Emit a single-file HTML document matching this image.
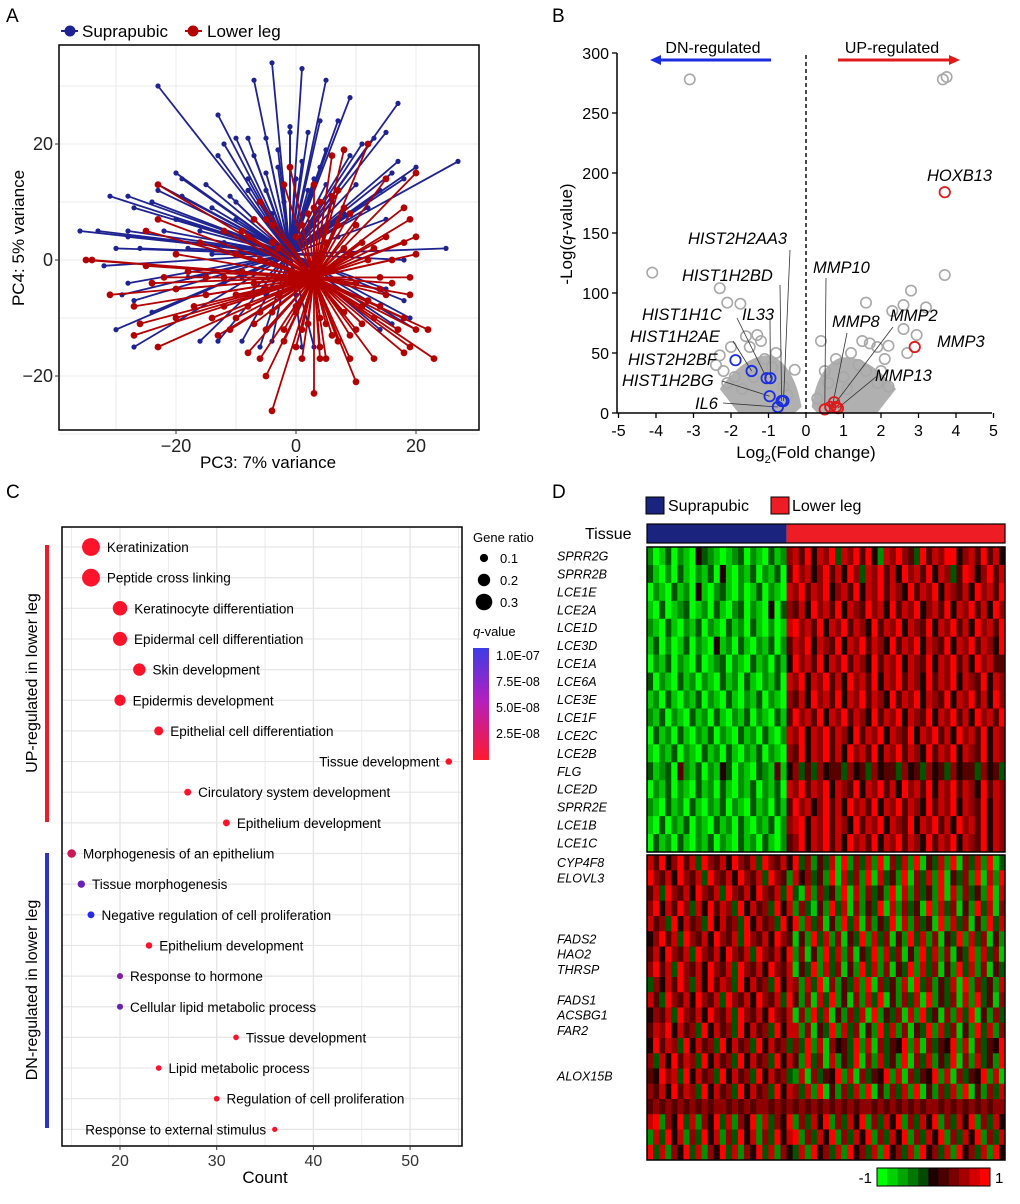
<!DOCTYPE html>
<html><head><meta charset="utf-8"><style>
html,body{margin:0;padding:0;background:#fff}
svg{display:block;font-family:"Liberation Sans",Arial,sans-serif}
</style></head><body>
<svg id="fig" width="1020" height="1204" viewBox="0 0 1020 1204" xmlns="http://www.w3.org/2000/svg"></svg>
<script>
// ===== Panel A data (PC3, PC4 endpoints) =====
const pcaBlueCenter=[-1,1];
const pcaRedCenter=[3,-3];
const pcaBlue=[[-23,30],[-4,34],[1,33],[-7,31],[5,31],[9,28],[17,27],[-13,25],[-1,22],[2,22],[-10,21],[-8,21],[-5,21],[13,21],[15,22],[7,24],[4,24],[-1,23],[-12,20],[-13,18],[-3,19],[5,19],[11,20],[9,18],[17,17],[20,16],[27,17],[16,15],[18,14],[-20,15],[-19,14],[-23,13],[-23,12],[-15,13],[-19,11],[-31,11],[-28,11],[-24,10],[-27,9],[-10,10],[-36,5],[-33,5],[-28,5],[-28,4],[-22,5],[-30,2],[-26,2],[-32,-1],[-28,-4],[-29,-6],[-27,-7],[-30,-12],[-27,-15],[-16,-14],[-13,-14],[-9,-14],[-6,-15],[1,-15],[3,-15],[25,2],[18,0],[19,-10],[18,-7],[15,-5],[16,-11],[20,-12],[14,-12],[-4,-14],[8,8],[12,9],[14,12],[-5,12],[0,14],[3,14],[-8,14],[-14,9],[15,7],[-20,7],[-18,-3],[-24,-9],[-12,-4],
[-8,12],[-5,15],[-2,10],[2,12],[6,10],[-10,7],[-12,3],[-6,4],[3,6],[7,4],[-9,-3],[-5,-6],[0,-6],[-14,1],[-3,16],[4,16],[-7,18],[1,17],[10,13],[-11,11],[-16,5],[-18,2],[-4,8],[5,13]];
const pcaRed=[[-35,0],[-34,0],[-23,13],[-23,7],[-25,5],[-25,-1],[-31,-6],[-27,-8],[-26,-11],[-27,-13],[-23,-15],[-20,-5],[-18,-2],[-20,-10],[-13,-13],[-10,-10],[-8,-16],[-6,-17],[-5,-20],[-4,-26],[-2,-12],[0,-15],[1,-17],[3,-23],[4,-17],[5,-17],[9,-17],[10,-21],[13,-17],[18,-16],[19,-15],[22,-12],[23,-17],[20,-12],[18,-10],[19,-6],[19,-3],[20,1],[18,3],[20,4],[19,7],[18,9],[15,14],[20,15],[12,20],[8,19],[6,18],[-1,16],[3,13],[-2,13],[7,12],[8,9],[9,8],[4,10],[-5,7],[-7,7],[-12,5],[-16,3],[-20,1],[-15,-3],[-10,-6],[-12,-8],[-7,-4],[-3,-6],[0,-9],[5,-11],[11,-8],[14,-3],[15,-6],[13,-10],[10,-12],[-5,-12],[14,-5],[12,0],[16,0],[-8,4],[-4,6],[2,8],[5,5],[-9,-2],[-24,-4],[-17,-8],[-22,-3],[6,-5],[17,-12],[-14,-10],[-6,-9],[7,-14],
[-6,0],[-4,3],[0,4],[5,3],[9,1],[10,-4],[8,-9],[4,-10],[0,-8],[-5,-5],[-8,-8],[-3,2],[7,6],[11,3],[12,-7],[6,-13],[-2,-14],[-10,1],[-12,-3],[1,6],[4,-15],[9,-13],[-7,-11],[13,2],[-1,-2],[8,2],[2,-11],[-4,-9],[11,-11],[-9,5],[6,11],[-6,10],[3,9],[14,-8],[16,-4],[15,4],[-11,-12],[-15,-6],[10,6],[1,-12]];
const pcaXTicks=[-20,0,20];
const pcaYTicks=[-20,0,20];

// ===== Panel B data (log2FC, -log q) =====
const volGrey=[[-3.1,278],[3.65,278],[3.75,280],[-4.1,117],[3.7,115],[-2.3,104],[2.8,102],[-2.1,92],[-1.75,91],[1.6,92],[2.6,90],[3.2,88],[2.3,85],[-1.3,65],[-1.2,60],[-2.0,55],[-1.5,55],[2.6,70],[2.95,65],[0.4,60],[1.5,60],[1.7,58],[1.9,55],[2.2,56],[2.7,50],[2.1,45],[-2.3,48],[-2.4,40],[-1.9,30],[-2.1,25],[1.9,25],[2.2,22],[-0.3,36],[-1.6,64],[-0.6,22],[0.8,45],[1.2,50],[1.0,30],[1.4,40],[0.5,35],[-1.1,45],[-0.9,38],[-1.4,30],[-0.5,15],[0.3,12],[1.1,20],[1.6,35],[-1.7,20],[2.0,35],[-2.2,35],[0.6,25],[-0.8,50]];
const volDn=[[-1.88,44],[-1.45,35],[-1.05,29],[-0.95,29],[-0.97,14],[-0.65,10],[-0.6,10],[-0.75,5]];
const volUp=[[3.7,184],[2.9,55],[0.5,3],[0.65,5],[0.75,9],[0.8,5],[0.85,4]];
const volXTicks=[-5,-4,-3,-2,-1,0,1,2,3,4,5];
const volYTicks=[0,50,100,150,200,250,300];

// ===== Panel C data =====
const goTerms=["Keratinization","Peptide cross linking","Keratinocyte differentiation","Epidermal cell differentiation","Skin development","Epidermis development","Epithelial cell differentiation","Tissue development","Circulatory system development","Epithelium development","Morphogenesis of an epithelium","Tissue morphogenesis","Negative regulation of cell proliferation","Epithelium development","Response to hormone","Cellular lipid metabolic process","Tissue development","Lipid metabolic process","Regulation of cell proliferation","Response to external stimulus"];
const goCounts=[17,17,20,20,22,20,24,54,27,31,15,16,17,23,20,20,32,24,30,36];
const goRatios=[0.33,0.33,0.25,0.24,0.2,0.17,0.12,0.06,0.07,0.07,0.11,0.08,0.07,0.06,0.05,0.05,0.04,0.04,0.04,0.03];
const goQ=[1e-9,1e-9,1e-9,1e-9,1e-9,1e-9,1e-9,1e-9,1e-9,1e-9,2.5e-8,7e-8,1e-7,1e-9,6e-8,7e-8,1e-9,1e-9,1e-9,1e-9];
const goXTicks=[20,30,40,50];

// ===== Panel D data =====
const hmGenesTop=["SPRR2G","SPRR2B","LCE1E","LCE2A","LCE1D","LCE3D","LCE1A","LCE6A","LCE3E","LCE1F","LCE2C","LCE2B","FLG","LCE2D","SPRR2E","LCE1B","LCE1C"];
const hmTop=[
"20130210432101230210312675847683768584276865385768846758574",
"31020310213041021302130586746857486376857486758476358746857",
"02103120410231020130210768576846758476857648576847657486758",
"10301230120310230210403657486758476586748576846758476857486",
"21031021302103120310201786758476857648576847658476857486758",
"13020130210412031021302576847658476857648576847658476857648",
"02130210301230210312031486758476857648576847658476857486755",
"30210312021031203102130768476857486758476857648576847658476",
"12031021302103102130210657486758476857648576847658476857486",
"21302103120310213021031586758476857648576847658476857486758",
"03120310213021031203102768476857648576847658476857486758476",
"10213021031203102130210658476857486758476857648576847658476",
"31230521302143021032151463536455364536455364536453645536453",
"02130210312031021302130768576847658476857486758476857648576",
"21031203102130210312031586746857486758476857648576847658476",
"10302130210312031021302678476857648576847658476857486758476",
"03120310213021031203102568476857486758476857648576847658476"];
const hmGenesBottom=["CYP4F8","ELOVL3","","","","FADS2","HAO2","THRSP","","FADS1","ACSBG1","FAR2","","","ALOX15B","","","","",""];
const hmBottom=[
"75846857386574865738657483625371826372816372815372816372813",
"86574865738657486573865274635281736281735281637281536281728",
"57386574865738657486573831726352817263528172635281726352817",
"68475863748576384756384726315283716253817263518273615283716",
"75638475638475638475638482736152837162538172635182736152837",
"46857386574865738657486515283726153827361528372615382736152",
"57486573865748657386574826152837261538273615283726153827361",
"68573865748657386574865715382736152837261538273615283726153",
"36475863748576384756384762738162537281635271836253718263527",
"75386574865738657486573852617382516273815263718253617283516",
"46573865748657386574865716283715263718253617283516273815263",
"57684756384756384756384772615382736152837261538273615283726",
"48576384756384756384756363827164538271635482716354827163548",
"63748576384756384756384752836172538162735281637253816273528",
"54867384756384756384756327163548271635482716354827163548271",
"65748576384756384756384763728152637281526372815263728152637",
"56565656565665656566565656565656565665656565656656565656566",
"78264837264837264827364826374826374826374826374826374826374",
"27384726384726384726384782637482637482637482637482637482637",
"83726483726483726483726437284637284637284637284637284637284"];
const hmSupraFrac=0.39;
const colorbarSteps=[-1,-0.8,-0.6,-0.4,-0.2,0,0.2,0.4,0.6,0.8,1];

const NS="http://www.w3.org/2000/svg";
const svg=document.getElementById('fig');
function mk(tag,attrs,parent,txt){const e=document.createElementNS(NS,tag);for(const k in attrs)e.setAttribute(k,attrs[k]);if(txt!==undefined)e.textContent=txt;(parent||svg).appendChild(e);return e;}
function grp(name){const g=mk('g',{});return g;}

[["A",6,22],["B",552,22],["C",6,498],["D",552,498]].forEach(p=>{
  const t=mk('text',{x:p[1],y:p[2],'font-size':19},svg,p[0]);
  
  
});

// ===== Panel A =====
(function(){
  const g=grp('pca-panel');
  const L=59,R=479,T=45,B=430;
  const xs=v=>296+v*6, ys=v=>260-v*5.8;
  mk('rect',{x:L,y:T,width:R-L,height:B-T,fill:'#fff'},g);
  const grid=grp('pca-grid');g.appendChild(grid);
  [-30,-20,-10,0,10,20].forEach(v=>mk('line',{x1:xs(v),x2:xs(v),y1:T,y2:B,stroke:'#ebebeb','stroke-width':1},grid));
  [-30,-20,-10,0,10,20,30].forEach(v=>mk('line',{x1:L,x2:R,y1:ys(v),y2:ys(v),stroke:'#ebebeb','stroke-width':1},grid));
  function series(pts,c,col,r,name){
    const sg=grp(name);g.appendChild(sg);
    pts.forEach(p=>{
      mk('line',{x1:xs(c[0]),y1:ys(c[1]),x2:xs(p[0]),y2:ys(p[1]),stroke:col,'stroke-width':1.8},sg);
    });
    pts.forEach(p=>{
      const d=mk('circle',{cx:xs(p[0]),cy:ys(p[1]),r:r,fill:col},sg);
      
      
    });
  }
  series(pcaBlue,pcaBlueCenter,'#1f2391',2.6,'suprapubic-series');
  series(pcaRed,pcaRedCenter,'#b30000',3.4,'lower-leg-series');
  mk('rect',{x:L,y:T,width:R-L,height:B-T,fill:'none',stroke:'#000','stroke-width':1.5},g);
  pcaXTicks.forEach(v=>{mk('line',{x1:xs(v),x2:xs(v),y1:B,y2:B+4,stroke:'#333'},g);
    const t=mk('text',{x:xs(v),y:B+22,'font-size':18,'text-anchor':'middle',fill:'#222'},g,v<0?'\u2212'+(-v):v);
    });
  pcaYTicks.forEach(v=>{mk('line',{x1:L-4,x2:L,y1:ys(v),y2:ys(v),stroke:'#333'},g);
    const t=mk('text',{x:L-6,y:ys(v)+6,'font-size':18,'text-anchor':'end',fill:'#222'},g,v<0?'\u2212'+(-v):v);
    });
  const xt=mk('text',{x:268,y:468,'font-size':17,'text-anchor':'middle'},g,'PC3: 7% variance');
  
  const yt=mk('text',{x:0,y:0,'font-size':17,'text-anchor':'middle',transform:'translate(24,238) rotate(-90)'},g,'PC4: 5% variance');
  
  const lg=grp('pca-legend');g.appendChild(lg);
  mk('line',{x1:61,x2:78,y1:31,y2:31,stroke:'#1f2391','stroke-width':2},lg);
  mk('circle',{cx:70,cy:31,r:5.5,fill:'#1f2391'},lg);
  const l1=mk('text',{x:82,y:37,'font-size':17},lg,'Suprapubic');
  
  mk('line',{x1:185,x2:202,y1:31,y2:31,stroke:'#b30000','stroke-width':2},lg);
  mk('circle',{cx:193,cy:31,r:5.5,fill:'#b30000'},lg);
  const l2=mk('text',{x:207,y:37,'font-size':17},lg,'Lower leg');
  
})();

// ===== Panel B =====
(function(){
  const g=grp('volcano-panel');
  const xs=v=>806+v*37.5, ys=v=>413-v*1.2;
  mk('path',{d:`M${xs(-2.3)},${ys(20)} Q${xs(-1.6)},${ys(50)} ${xs(-0.9)},${ys(48)} Q${xs(-0.3)},${ys(38)} ${xs(-0.12)},${ys(5)} L${xs(-0.3)},${ys(0)} L${xs(-1.8)},${ys(0)} Z`,fill:'#b0b0b0'},g);
  mk('path',{d:`M${xs(2.4)},${ys(20)} Q${xs(1.6)},${ys(50)} ${xs(0.9)},${ys(46)} Q${xs(0.3)},${ys(38)} ${xs(0.15)},${ys(5)} L${xs(0.3)},${ys(0)} L${xs(1.9)},${ys(0)} Z`,fill:'#b0b0b0'},g);
  volGrey.forEach(p=>{const c=mk('circle',{cx:xs(p[0]),cy:ys(p[1]),r:5.2,fill:'none',stroke:'#a8a8a8','stroke-width':1.6},g);
    });
  mk('line',{x1:806,x2:806,y1:55,y2:413,stroke:'#000','stroke-width':1.4,'stroke-dasharray':'4,3'},g);
  const labels=[["HOXB13",927,181,null],["MMP3",937,347,null],["MMP2",890,321,[893,327,xs(0.8),ys(9)]],["MMP8",832,327,[847,333,xs(0.7),ys(5)]],["MMP10",813,273,[826,278,xs(0.5),ys(3)]],["MMP13",875,381,[877,376,xs(0.85),ys(4)]],["HIST2H2AA3",688,244,[790,250,xs(-0.6),ys(10)]],["HIST1H2BD",682,281,[780,285,xs(-0.65),ys(10)]],["HIST1H1C",642,320,[737,318,xs(-1.05),ys(29)]],["IL33",742,320,[770,318,xs(-0.95),ys(29)]],["HIST1H2AE",630,342,[733,341,xs(-1.45),ys(35)]],["HIST2H2BF",628,365,null],["HIST1H2BG",622,386,[722,381,xs(-0.97),ys(14)]],["IL6",695,409,[723,403,xs(-0.75),ys(5)]]];
  labels.forEach(l=>{
    const t=mk('text',{x:l[1],y:l[2],'font-size':16.5,'font-style':'italic'},g,l[0]);
    
    if(l[3])mk('line',{x1:l[3][0],y1:l[3][1],x2:l[3][2],y2:l[3][3],stroke:'#333','stroke-width':0.8},g);
  });
  volDn.forEach(p=>{const c=mk('circle',{cx:xs(p[0]),cy:ys(p[1]),r:5.2,fill:'none',stroke:'#1a2ee0','stroke-width':1.8},g);
    });
  volUp.forEach(p=>{const c=mk('circle',{cx:xs(p[0]),cy:ys(p[1]),r:5.2,fill:'none',stroke:'#e01a1a','stroke-width':1.8},g);
    });
  mk('line',{x1:617,x2:617,y1:ys(300),y2:413,stroke:'#000','stroke-width':1.5},g);
  mk('line',{x1:617,x2:992,y1:413,y2:413,stroke:'#000','stroke-width':1.5},g);
  volXTicks.forEach(v=>{mk('line',{x1:xs(v),x2:xs(v),y1:413,y2:418,stroke:'#000','stroke-width':1.3},g);
    const t=mk('text',{x:xs(v),y:436,'font-size':16,'text-anchor':'middle'},g,v);
    });
  volYTicks.forEach(v=>{mk('line',{x1:612,x2:617,y1:ys(v),y2:ys(v),stroke:'#000','stroke-width':1.3},g);
    const t=mk('text',{x:609,y:ys(v)+6,'font-size':16,'text-anchor':'end'},g,v);
    });
  const xt=mk('text',{x:806,y:458,'font-size':17,'text-anchor':'middle'},g);
  xt.innerHTML='Log<tspan dy="5" font-size="11">2</tspan><tspan dy="-5">(Fold change)</tspan>';
  
  const yt=mk('text',{x:0,y:0,'font-size':17,'text-anchor':'middle',transform:'translate(572,234) rotate(-90)'},g);
  yt.innerHTML='-Log(<tspan font-style="italic">q</tspan>-value)';
  
  const d1=mk('text',{x:713,y:53,'font-size':16,'text-anchor':'middle'},g,'DN-regulated');
  
  mk('line',{x1:660,x2:771,y1:60,y2:60,stroke:'#1a2ee0','stroke-width':3},g);
  mk('path',{d:'M650,60 L661,55 L661,65 Z',fill:'#1a2ee0'},g);
  const d2=mk('text',{x:892,y:53,'font-size':16,'text-anchor':'middle'},g,'UP-regulated');
  
  mk('line',{x1:838,x2:950,y1:60,y2:60,stroke:'#e01a1a','stroke-width':3},g);
  mk('path',{d:'M960,60 L949,55 L949,65 Z',fill:'#e01a1a'},g);
})();

// ===== Panel C =====
(function(){
  const g=grp('go-dotplot-panel');
  const L=62,R=462,T=527,B=1146;
  const xs=v=>120+(v-20)*9.67, ys=i=>547+i*30.65;
  const grid=grp('go-grid');g.appendChild(grid);
  [15,20,25,30,35,40,45,50,55].forEach(v=>mk('line',{x1:xs(v),x2:xs(v),y1:T,y2:B,stroke:'#e6e6e6','stroke-width':v%10==0?1.4:0.8},grid));
  goTerms.forEach((t,i)=>mk('line',{x1:L,x2:R,y1:ys(i),y2:ys(i),stroke:'#e6e6e6','stroke-width':1.2},grid));
  function qcol(q){const f=Math.min(1,Math.max(0,q/1e-7));const r=Math.round(255*(1-f)+40*f),b=Math.round(40*(1-f)+235*f),gg=Math.round(20*(1-f)+40*f);return `rgb(${r},${gg},${b})`;}
  goTerms.forEach((t,i)=>{
    const cx=xs(goCounts[i]),cy=ys(i),r=2+goRatios[i]*21;
    const c=mk('circle',{cx:cx,cy:cy,r:r,fill:qcol(goQ[i])},g);
    
    const left=(i==7||i==19);
    const tx=mk('text',{x:left?cx-r-6:cx+r+7,y:cy+5,'font-size':13.5,'text-anchor':left?'end':'start'},g,t);
    
  });
  mk('rect',{x:L,y:T,width:R-L,height:B-T,fill:'none',stroke:'#000','stroke-width':1.5},g);
  goXTicks.forEach(v=>{mk('line',{x1:xs(v),x2:xs(v),y1:B,y2:B+4,stroke:'#333'},g);
    const t=mk('text',{x:xs(v),y:B+20,'font-size':16,'text-anchor':'middle',fill:'#333'},g,v);
    });
  const xt=mk('text',{x:265,y:1183,'font-size':17,'text-anchor':'middle'},g,'Count');
  
  mk('line',{x1:47,x2:47,y1:545,y2:822,stroke:'#ee1c25','stroke-width':4},g);
  mk('line',{x1:47,x2:47,y1:853,y2:1128,stroke:'#2a35c8','stroke-width':4},g);
  const s1=mk('text',{x:0,y:0,'font-size':16,'text-anchor':'middle',transform:'translate(37,683) rotate(-90)'},g,'UP-regulated in lower leg');
  
  const s2=mk('text',{x:0,y:0,'font-size':16,'text-anchor':'middle',transform:'translate(37,990) rotate(-90)'},g,'DN-regulated in lower leg');
  
  const lg=grp('go-legend');g.appendChild(lg);
  mk('text',{x:473,y:542,'font-size':13},lg,'Gene ratio');
  [[0.1,558],[0.2,580],[0.3,602]].forEach(a=>{mk('circle',{cx:484,cy:a[1],r:2+a[0]*21,fill:'#000'},lg);mk('text',{x:500,y:a[1]+5,'font-size':13},lg,a[0]);});
  const qt=mk('text',{x:473,y:636,'font-size':13,'font-style':'italic'},lg,'q');
  mk('tspan',{'font-style':'normal'},qt,'-value');
  const defs=mk('defs',{},svg);
  const lgr=mk('linearGradient',{id:'qgrad',x1:0,y1:0,x2:0,y2:1},defs);
  mk('stop',{offset:'0',  'stop-color':'#3c3ce6'},lgr);
  mk('stop',{offset:'0.45','stop-color':'#b020c0'},lgr);
  mk('stop',{offset:'1','stop-color':'#ff1a2e'},lgr);
  mk('rect',{x:473,y:648,width:16,height:112,fill:'url(#qgrad)'},lg);
  [["1.0E-07",655],["7.5E-08",681],["5.0E-08",707],["2.5E-08",733]].forEach(a=>{mk('line',{x1:489,x2:492,y1:a[1],y2:a[1],stroke:'#fff'},lg);mk('text',{x:496,y:a[1]+5,'font-size':12.5},lg,a[0]);});
})();

// ===== Panel D =====
(function(){
  const g=grp('heatmap-panel');
  const L=647,R=1005,W=R-L;
  function col(d){const v=(d-4)/4;if(v<0){const f=-v;return `rgb(0,${Math.round(30+225*f)},0)`;}const f=v;return `rgb(${Math.round(30+225*f)},0,0)`;}
  function block(rows,top,h,name){
    const bg=grp(name);g.appendChild(bg);
    const rh=h/rows.length;
    rows.forEach((s,ri)=>{const cw=W/s.length;
      for(let ci=0;ci<s.length;ci++){
        const c=mk('rect',{x:L+ci*cw,y:top+ri*rh,width:cw+0.4,height:rh+0.4,fill:col(+s[ci])},bg);
        
        
      }});
    mk('rect',{x:L,y:top,width:W,height:h,fill:'none',stroke:'#000','stroke-width':1.5},g);
  }
  block(hmTop,547,305,'heatmap-epidermal-genes');
  block(hmBottom,855,305,'heatmap-lipid-genes');
  const rhT=305/hmGenesTop.length;
  hmGenesTop.forEach((n,i)=>{const t=mk('text',{x:557,y:547+(i+0.5)*rhT+4.5,'font-size':12.5,'font-style':'italic'},g,n);
    });
  const rhB=305/hmGenesBottom.length;
  hmGenesBottom.forEach((n,i)=>{if(!n)return;const t=mk('text',{x:557,y:855+(i+0.5)*rhB+4.5,'font-size':12.5,'font-style':'italic'},g,n);
    });
  const split=L+W*hmSupraFrac;
  mk('rect',{x:L,y:524,width:split-L,height:19,fill:'#1a237e'},g);
  mk('rect',{x:split,y:524,width:R-split,height:19,fill:'#ee1c25'},g);
  mk('rect',{x:L,y:524,width:W,height:19,fill:'none',stroke:'#000','stroke-width':1.2},g);
  const tt=mk('text',{x:585,y:539,'font-size':16},g,'Tissue');
  
  mk('rect',{x:646,y:497,width:18,height:17,fill:'#1a237e',stroke:'#000'},g);
  const a=mk('text',{x:668,y:511,'font-size':16},g,'Suprapubic');
  
  mk('rect',{x:771,y:497,width:18,height:17,fill:'#ee1c25',stroke:'#000'},g);
  const b=mk('text',{x:792,y:511,'font-size':16},g,'Lower leg');
  
  const cb=grp('heatmap-colorbar');g.appendChild(cb);
  const cw=113/colorbarSteps.length;
  colorbarSteps.forEach((v,i)=>{const r=mk('rect',{x:877+i*cw,y:1168,width:cw+0.3,height:18,fill:col(4+v*4)},cb);
    });
  mk('rect',{x:877,y:1168,width:113,height:18,fill:'none',stroke:'#000'},cb);
  mk('text',{x:872,y:1183,'font-size':15,'text-anchor':'end'},cb,'-1');
  mk('text',{x:995,y:1183,'font-size':15},cb,'1');
})();
</script>
</body></html>
